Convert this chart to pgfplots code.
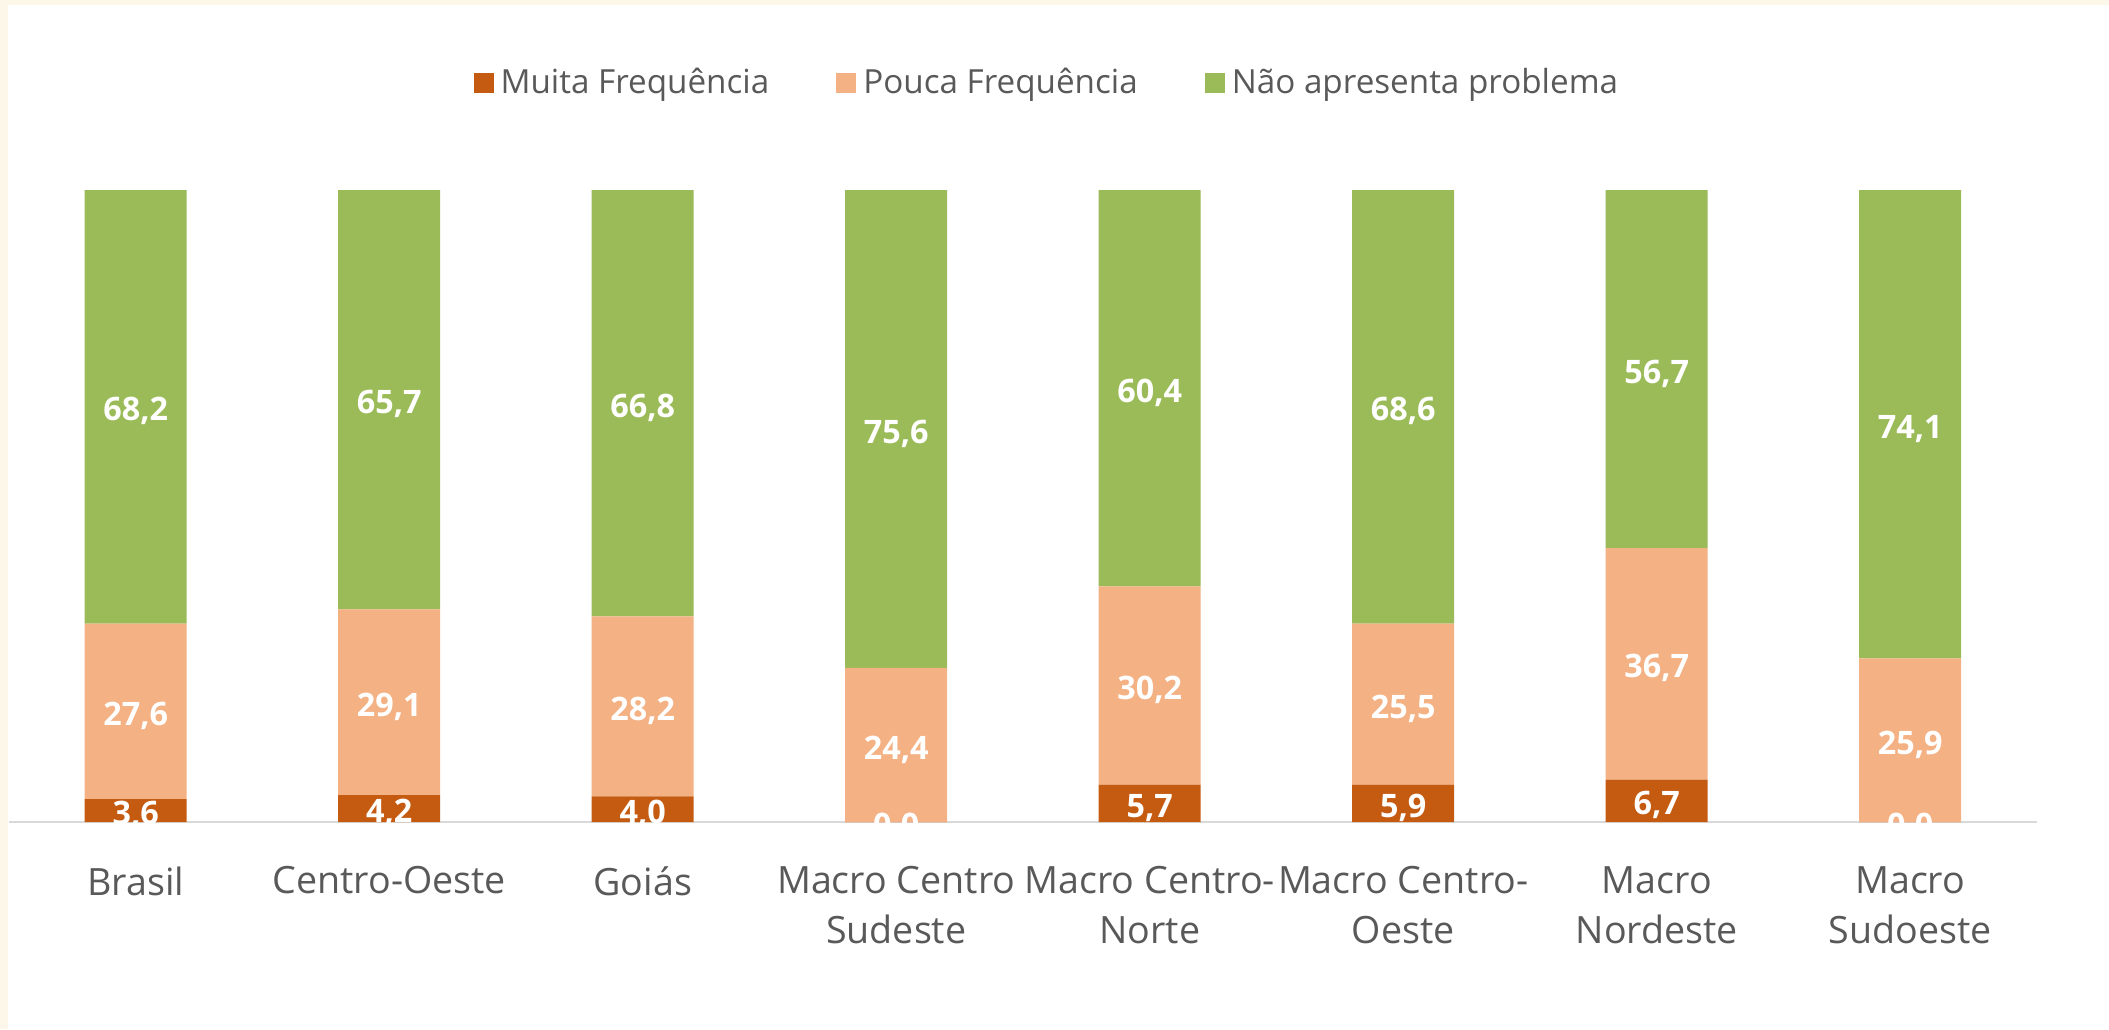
\documentclass[border=0pt]{standalone}
\usepackage{pgfplots}
\pgfplotsset{compat=1.18}
\usepackage{fontspec}
\setmainfont{Open Sans}
\definecolor{muita}{HTML}{C55A11}
\definecolor{pouca}{HTML}{F4B183}
\definecolor{nao}{HTML}{9BBB59}
\definecolor{txt}{HTML}{595959}
\definecolor{axl}{HTML}{D9D9D9}
\definecolor{cream}{HTML}{FDF7EA}
\begin{document}
\begin{tikzpicture}
\fill[cream] (-0.09,-2.07) rectangle (21.00,8.22);
\fill[white] (-0.01,-2.07) rectangle (21.00,8.17);
\begin{axis}[
  scale only axis,
  width=20.28cm, height=6.32cm,
  xmin=-0.5, xmax=7.5, ymin=0, ymax=100.01,
  ybar stacked, bar width=1.02cm,
  clip mode=global,
  axis x line*=bottom, axis y line=none,
  x axis line style={draw=axl, line width=0.6pt, -},
  xtick=data, major tick length=0pt,
  xticklabels={Brasil, Centro-Oeste, Goiás, {Macro Centro\\Sudeste}, {Macro Centro-\\Norte}, {Macro Centro-\\Oeste}, {Macro\\Nordeste}, {Macro\\Sudoeste}},
  xticklabel style={align=center, font=\fontsize{10.7}{14.2}\selectfont, text=txt, anchor=north, yshift=-0.32cm},
  ytick=\empty,
  point meta=explicit symbolic,
  nodes near coords={\pgfplotspointmeta},
  every node near coord/.append style={anchor=center, yshift=-0.045cm, text=white, font=\fontsize{9.2}{11}\selectfont\bfseries},
  legend columns=3,
  legend style={draw=none, fill=none, at={(0.513,1.169)}, anchor=center, font=\fontsize{9.45}{11}\selectfont, text=txt,
    /tikz/every even column/.append style={column sep=0.6cm}},
  legend image code/.code={\fill[#1] (0cm,-0.1cm) rectangle (0.2cm,0.1cm);},
]
\addplot[fill=muita, draw=none] table[meta=l] {
x y l
0 3.622 3,6
1 4.242 4,2
2 4.040 4,0
3 0.001 0,0
4 5.919 5,7
5 5.900 5,9
6 6.693 6,7
7 0.001 0,0
};
\addlegendentry{Muita Frequência}
\addplot[fill=pouca, draw=none] table[meta=l] {
x y l
0 27.767 27,6
1 29.394 29,1
2 28.485 28,2
3 24.399 24,4
4 31.361 30,2
5 25.500 25,5
6 36.663 36,7
7 25.899 25,9
};
\addlegendentry{Pouca Frequência}
\addplot[fill=nao, draw=none] table[meta=l] {
x y l
0 68.611 68,2
1 66.364 65,7
2 67.475 66,8
3 75.600 75,6
4 62.720 60,4
5 68.600 68,6
6 56.644 56,7
7 74.100 74,1
};
\addlegendentry{Não apresenta problema}
\end{axis}
\end{tikzpicture}
\end{document}
